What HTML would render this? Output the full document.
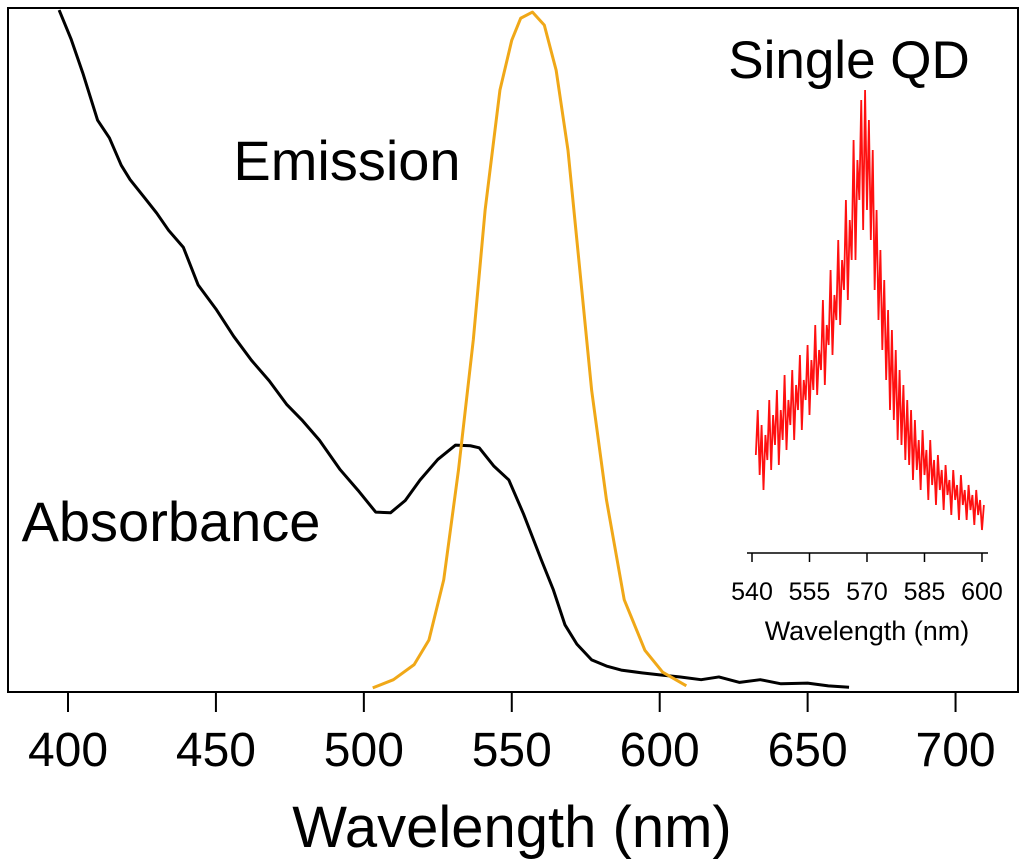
<!DOCTYPE html>
<html><head><meta charset="utf-8"><style>
body{margin:0;background:#fff;}
svg{display:block;font-family:"Liberation Sans",Arial,sans-serif;}
</style></head><body>
<svg id="chart" width="1024" height="862" viewBox="0 0 1024 862" xmlns="http://www.w3.org/2000/svg">
<rect x="8" y="8" width="1010" height="684" fill="none" stroke="#000" stroke-width="2"/>
<g id="xticks"></g>
<text x="512" y="847" font-size="58" text-anchor="middle">Wavelength (nm)</text>
<text x="849" y="78" font-size="53" text-anchor="middle">Single QD</text>
<text x="347" y="180" font-size="56" text-anchor="middle">Emission</text>
<text x="171" y="541" font-size="56" text-anchor="middle">Absorbance</text>
<g id="series"></g>
<g id="inset"></g>
<text x="867" y="640" font-size="27" text-anchor="middle">Wavelength (nm)</text>
</svg>
<script>
const xTicks=[400,450,500,550,600,650,700];
const absWl=[397,401,405,410,414,418,421,426,430,434,439,444,450,456,462,468,474,479,485,492,498,504,509,514,519,525,531,536,539,544,549,554,560,564,568,572,577,582,587,594,600,607,614,620,627,634,641,650,657,664];
const absVal=[0.997,0.955,0.905,0.836,0.81,0.77,0.749,0.722,0.7,0.675,0.65,0.595,0.56,0.52,0.485,0.455,0.42,0.398,0.368,0.325,0.295,0.263,0.262,0.28,0.31,0.34,0.361,0.36,0.357,0.33,0.31,0.26,0.193,0.15,0.098,0.07,0.047,0.038,0.032,0.028,0.025,0.022,0.018,0.022,0.014,0.018,0.012,0.013,0.009,0.007];
const emWl=[503,510,517,522,527,532,537,541,546,550,553,557,561,565,569,573,577,582,588,595,601,609];
const emVal=[0.006,0.018,0.04,0.076,0.164,0.325,0.515,0.705,0.88,0.953,0.985,0.994,0.975,0.909,0.792,0.617,0.441,0.281,0.135,0.061,0.029,0.009];
const qdWl=[541,541.5,542,542.5,543,543.5,544,544.5,545,545.5,546,546.5,547,547.5,548,548.5,549,549.5,550,550.5,551,551.5,552,552.5,553,553.5,554,554.5,555,555.5,556,556.5,557,557.5,558,558.5,559,559.5,560,560.5,561,561.5,562,562.5,563,563.5,564,564.5,565,565.5,566,566.5,567,567.5,568,568.5,569,569.5,570,570.5,571,571.5,572,572.5,573,573.5,574,574.5,575,575.5,576,576.5,577,577.5,578,578.5,579,579.5,580,580.5,581,581.5,582,582.5,583,583.5,584,584.5,585,585.5,586,586.5,587,587.5,588,588.5,589,589.5,590,590.5,591,591.5,592,592.5,593,593.5,594,594.5,595,595.5,596,596.5,597,597.5,598,598.5,599,599.5,600,600.5];
const qdVal=[105,150,85,135,70,125,100,160,90,145,115,170,95,150,120,185,110,160,135,190,120,175,150,205,130,180,160,215,145,200,170,235,165,210,190,260,175,235,215,290,205,265,240,320,235,300,270,360,260,340,300,420,300,400,360,460,330,470,350,440,320,410,270,350,240,310,210,280,180,250,150,230,140,210,120,190,115,175,100,160,95,150,80,140,90,120,70,130,85,110,60,120,75,100,55,105,70,90,50,95,65,80,45,90,60,75,40,85,55,70,40,75,50,65,35,70,45,60,30,55,50,40];
const insetTicks=[540,555,570,585,600];
const NS="http://www.w3.org/2000/svg";
const xs=w=>68+(w-400)*2.9585;
const ys=v=>692-v*684;
const ixs=w=>752+(w-540)*3.833;
const iys=v=>560-v;
function mk(t,a,p){const e=document.createElementNS(NS,t);for(const k in a)e.setAttribute(k,a[k]);p.appendChild(e);return e;}
const xt=document.getElementById('xticks');
xTicks.forEach(t=>{
 const l=mk('line',{x1:xs(t),x2:xs(t),y1:692,y2:712,stroke:'#000','stroke-width':2},xt);
 
 
 const tx=mk('text',{x:xs(t),y:766,'font-size':48,'text-anchor':'middle'},xt);
 tx.textContent=t;
 
 
});
const sg=document.getElementById('series');
const ab=mk('polyline',{points:absWl.map((w,i)=>xs(w)+','+ys(absVal[i])).join(' '),fill:'none',stroke:'#000','stroke-width':3,'stroke-linejoin':'round'},sg);


const em=mk('polyline',{points:emWl.map((w,i)=>xs(w)+','+ys(emVal[i])).join(' '),fill:'none',stroke:'#f0a818','stroke-width':3,'stroke-linejoin':'round'},sg);


const ig=document.getElementById('inset');
const ax=mk('line',{x1:747,x2:988,y1:553,y2:553,stroke:'#000','stroke-width':1.5},ig);


insetTicks.forEach(t=>{
 const l=mk('line',{x1:ixs(t),x2:ixs(t),y1:553,y2:562,stroke:'#000','stroke-width':1.5},ig);
 
 
 const tx=mk('text',{x:ixs(t),y:600,'font-size':25,'text-anchor':'middle'},ig);
 tx.textContent=t;
 
 
});
const qd=mk('polyline',{points:qdWl.map((w,i)=>ixs(w)+','+iys(qdVal[i])).join(' '),fill:'none',stroke:'#ff1010','stroke-width':1.8},ig);


</script>
</body></html>
